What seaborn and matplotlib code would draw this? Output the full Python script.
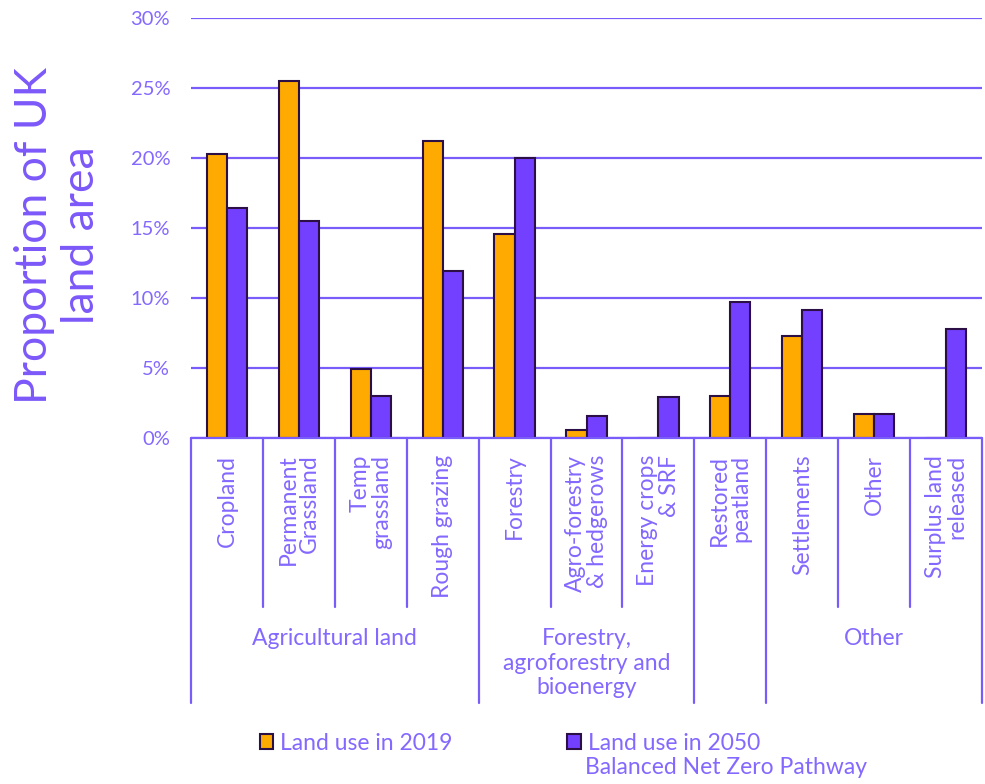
import numpy as np
import pandas as pd
import seaborn as sns
import matplotlib.pyplot as plt
import matplotlib.transforms as mtransforms

# values (percent of UK land area)
categories = ["Cropland", "Permanent\nGrassland", "Temp\ngrassland", "Rough grazing",
              "Forestry", "Agro-forestry\n& hedgerows", "Energy crops\n& SRF",
              "Restored\npeatland", "Settlements", "Other", "Surplus land\nreleased"]
land_2019 = [20.3, 25.5, 4.9, 21.2, 14.6, 0.55, 0.0, 3.0, 7.3, 1.7, 0.0]
land_2050 = [16.4, 15.5, 3.0, 11.9, 20.0, 1.6, 2.9, 9.7, 9.15, 1.7, 7.8]
groups = ["Agricultural land", "Forestry,\nagroforestry and\nbioenergy", "", "Other"]
group_sizes = [4, 3, 1, 3]
series_names = ["Land use in 2019", "Land use in 2050\nBalanced Net Zero Pathway"]
yticks = [0, 5, 10, 15, 20, 25, 30]

df = pd.DataFrame({
    "category": categories * 2,
    "value": land_2019 + land_2050,
    "series": [series_names[0]] * len(categories) + [series_names[1]] * len(categories),
})

sns.set_style("white")
plt.rcParams["font.family"] = ["Lato", "DejaVu Sans"]

txt_col = "#8468FF"
line_col = "#7A5CFA"

fig = plt.figure(figsize=(9.85, 7.84), dpi=100)
ax = fig.add_axes([191 / 985, 1 - 438 / 784, 791 / 985, 420 / 784])

sns.barplot(data=df, x="category", y="value", hue="series", order=categories,
            palette=["#FFAA00", "#7340FF"], width=0.56, saturation=1,
            edgecolor="#2B0F45", linewidth=1.5, ax=ax)

ax.set_xlim(-0.5, len(categories) - 0.5)
ax.set_ylim(0, 30)
ax.set_yticks(yticks)
ax.set_yticklabels([f"{v}%" for v in yticks], fontsize=14.5, color=txt_col)
ax.tick_params(axis="y", length=0, pad=15)
ax.yaxis.grid(True, color=line_col, lw=1.6)
ax.set_axisbelow(True)
for s in ax.spines.values():
    s.set_visible(False)
ax.set_xlabel("")
ax.set_ylabel("")

# category labels
ax.set_xticks(range(len(categories)))
ax.set_xticklabels(categories, rotation=90, fontsize=16.5, color=txt_col, linespacing=1.05)
ax.tick_params(axis="x", length=0, pad=12)
for lab in ax.get_xticklabels():
    lab.set_multialignment("right")

# the box of separators under the axis
trans = mtransforms.blended_transform_factory(ax.transData, ax.transAxes)
ax.plot([-0.5, len(categories) - 0.5], [0, 0], color=line_col, lw=1.6,
        transform=trans, clip_on=False)
edges = np.cumsum([0] + group_sizes) - 0.5
for b in np.arange(len(categories) + 1) - 0.5:
    bottom = -0.631 if b in edges else -0.402
    ax.plot([b, b], [0, bottom], color=line_col, lw=1.6, transform=trans, clip_on=False)

start = 0
for g, n in zip(groups, group_sizes):
    mid = start + (n - 1) / 2
    ax.text(mid, -0.452, g, transform=trans, ha="center", va="top", fontsize=16.5,
            color=txt_col, linespacing=1.22)
    start += n

fig.text(58 / 985, 1 - 235 / 784, "Proportion of UK\nland area", rotation=90,
         ha="center", va="center", fontsize=32, color="#7B58F8", linespacing=1.2)

# legend: handles sit on the first line of each label, second line added below
handles, labels = ax.get_legend_handles_labels()
ax.get_legend().remove()
first_lines = [s.split("\n")[0] for s in series_names]
leg = fig.legend(handles, first_lines, loc="upper left",
                 bbox_to_anchor=(239 / 985, 1 - 712 / 784),
                 ncol=2, frameon=False, fontsize=16.5, labelcolor=txt_col,
                 handlelength=0.6, handleheight=0.6, handletextpad=0.3, columnspacing=5.0)
fig.text(585 / 985, 1 - 768 / 784, series_names[1].split("\n")[1], ha="left", va="center",
         fontsize=16.5, color=txt_col)

fig.savefig("out.png", dpi=100)
